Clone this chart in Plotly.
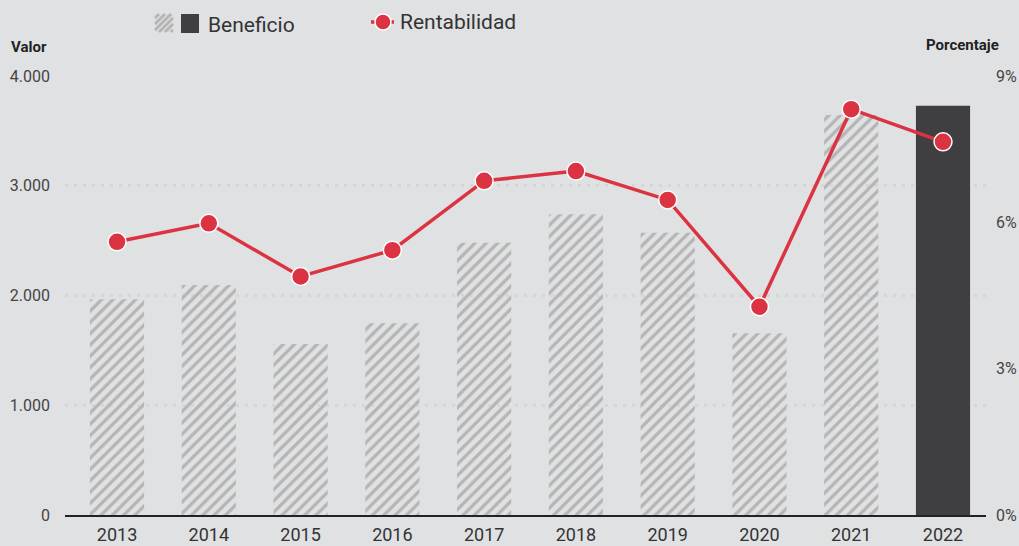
import plotly.graph_objects as go

years = ["2013", "2014", "2015", "2016", "2017", "2018", "2019", "2020", "2021", "2022"]
beneficio = [1965, 2096, 1558, 1747, 2481, 2740, 2572, 1656, 3645, 3729]
rentabilidad = [5.60, 5.98, 4.89, 5.43, 6.85, 7.05, 6.46, 4.27, 8.32, 7.65]
y_ticks = [0, 1000, 2000, 3000, 4000]
y2_ticks = [0, 3, 6, 9]
y2_labels = ["0%", "3%", "6%", "9%"]

BG = "#e0e1e3"
RED = "#dc3342"
DARK = "#3f3f42"
HATCH_FG = "#b5b5b5"
HATCH_BG = "#d9dadb"
TXT = "#333333"
FONT = "Roboto"

W, H = 1019, 546
L, R, T, B = 65, 986, 76, 515  # plot area in px


def px(x):
    return (x - L) / (R - L)


def py(y):
    return (B - y) / (B - T)


n = len(years)
bar_colors = [HATCH_FG] * (n - 1) + [DARK]
bar_shapes = ["/"] * (n - 1) + [""]

fig = go.Figure()
fig.add_trace(go.Bar(
    x=years, y=beneficio, name="Beneficio", width=0.59,
    marker=dict(color=bar_colors, line=dict(width=0),
                pattern=dict(shape=bar_shapes, bgcolor=HATCH_BG, size=8,
                             solidity=0.4, fillmode="replace")),
    showlegend=False,
))
fig.add_trace(go.Scatter(
    x=years, y=rentabilidad, name="Rentabilidad", yaxis="y2",
    mode="lines+markers",
    line=dict(color=RED, width=3.5),
    marker=dict(size=18, color=RED, line=dict(color="white", width=1.5)),
    showlegend=False,
))

shapes = []
# legend: hatched square
sx0, sy0, s = 155, 14, 18
shapes.append(dict(type="rect", xref="paper", yref="paper",
                   x0=px(sx0), x1=px(sx0 + s), y0=py(sy0 + s), y1=py(sy0),
                   fillcolor=HATCH_BG, line=dict(width=0), layer="above"))
for c in [4, 10, 16, 22, 28, 34]:
    # line u + v = c in square coords (u right, v down) -> "/" stripes
    pts = []
    for u in (0, s):
        v = c - u
        if 0 <= v <= s:
            pts.append((u, v))
    for v in (0, s):
        u = c - v
        if 0 <= u <= s:
            pts.append((u, v))
    pts = sorted(set(pts))
    if len(pts) >= 2:
        (u0, v0), (u1, v1) = pts[0], pts[-1]
        shapes.append(dict(type="line", xref="paper", yref="paper",
                           x0=px(sx0 + u0), y0=py(sy0 + v0),
                           x1=px(sx0 + u1), y1=py(sy0 + v1),
                           line=dict(color=HATCH_FG, width=2.5), layer="above"))
# legend: dark square
shapes.append(dict(type="rect", xref="paper", yref="paper",
                   x0=px(181), x1=px(199), y0=py(33), y1=py(14),
                   fillcolor=DARK, line=dict(width=0), layer="above"))
# legend: line + marker
shapes.append(dict(type="line", xref="paper", yref="paper",
                   x0=px(371), x1=px(394), y0=py(22), y1=py(22),
                   line=dict(color=RED, width=3.5), layer="above"))
shapes.append(dict(type="circle", xref="paper", yref="paper",
                   x0=px(375), x1=px(391), y0=py(30), y1=py(14),
                   fillcolor=RED, line=dict(color="white", width=1.5), layer="above"))

annotations = [
    dict(text="Beneficio", xref="paper", yref="paper", x=px(206), y=py(25),
         xanchor="left", yanchor="middle", showarrow=False,
         font=dict(family=FONT, size=21, color=TXT)),
    dict(text="Rentabilidad", xref="paper", yref="paper", x=px(398), y=py(22),
         xanchor="left", yanchor="middle", showarrow=False,
         font=dict(family=FONT, size=21, color=TXT)),
    dict(text="<b>Valor</b>", xref="paper", yref="paper", x=px(9), y=py(47),
         xanchor="left", yanchor="middle", showarrow=False,
         font=dict(family=FONT, size=15, color="#222")),
    dict(text="<b>Porcentaje</b>", xref="paper", yref="paper", x=px(1001), y=py(45),
         xanchor="right", yanchor="middle", showarrow=False,
         font=dict(family=FONT, size=15, color="#222")),
]

fig.update_layout(
    width=W, height=H, autosize=False,
    margin=dict(l=L, r=W - R, t=T, b=H - B, pad=0, autoexpand=False),
    paper_bgcolor=BG, plot_bgcolor=BG,
    separators=",.",
    font=dict(family=FONT, color=TXT),
    xaxis=dict(type="category", range=[-0.567, 9.4685], automargin=False,
               showgrid=False, showline=True, linecolor="#222", linewidth=1.5,
               ticks="", tickfont=dict(size=18, color=TXT), ticklabelstandoff=3),
    yaxis=dict(range=[0, 4000], tickvals=y_ticks, tickformat=",d", automargin=False,
               showgrid=True, gridcolor="#d5d6d8", gridwidth=3, griddash="3px,6px",
               zeroline=False, showline=False, ticks="",
               tickfont=dict(size=16, color="#444"), ticklabelstandoff=14),
    yaxis2=dict(range=[0, 9], tickvals=y2_ticks, ticktext=y2_labels, overlaying="y",
                side="right", showgrid=False, zeroline=False, showline=False,
                automargin=False, ticks="", tickfont=dict(size=16, color="#444"),
                ticklabelstandoff=9),
    shapes=shapes,
    annotations=annotations,
    showlegend=False,
)

fig.write_html(
    "out.html",
    config={"displayModeBar": False},
    post_script="document.body.style.margin='0';document.body.style.overflow='hidden';"
                "document.body.style.background='" + BG + "';",
)
